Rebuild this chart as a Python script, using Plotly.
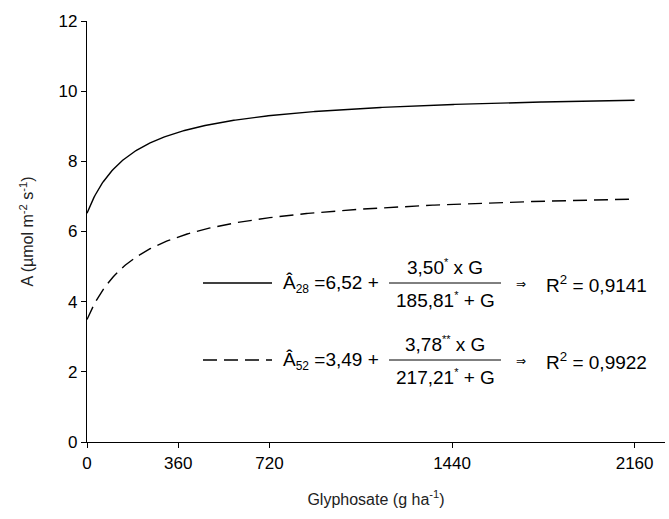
import numpy as np
import plotly.graph_objects as go

# Fitted rectangular-hyperbola models: A = a + b*G / (c + G)
series_names = ["28", "52"]
coef_a = [6.52, 3.49]
coef_b = [3.50, 3.78]
coef_c = [185.81, 217.21]
coef_b_sig = ["*", "**"]
coef_c_sig = ["*", "*"]
r_squared = ["0,9141", "0,9922"]
line_dash = ["solid", "14px,7px"]

x_ticks = [0, 360, 720, 1440, 2160]
y_ticks = [0, 2, 4, 6, 8, 10, 12]

dose = np.linspace(0, 2160, 400)

W, H = 669, 519
L, R, T, B = 87, 4, 21, 77
pw, ph = W - L - R, H - T - B


def px(x):
    return (x - L) / pw


def py(y):
    return (H - B - y) / ph


fig = go.Figure()
for i, name in enumerate(series_names):
    fitted = coef_a[i] + coef_b[i] * dose / (coef_c[i] + dose)
    fig.add_trace(go.Scatter(
        x=dose, y=fitted, mode="lines", name=name,
        line=dict(color="black", width=1.4, dash=line_dash[i]),
        showlegend=False, hoverinfo="skip",
    ))

font = "Liberation Sans, Arial, sans-serif"
eq_font = dict(size=19, family=font, color="black")
annotations = []
shapes = []
row_y = [283, 360]
for i, name in enumerate(series_names):
    yc = row_y[i]
    shapes.append(dict(type="line", xref="paper", yref="paper",
                       x0=px(203), x1=px(272), y0=py(yc), y1=py(yc),
                       line=dict(color="black", width=1.4, dash=line_dash[i])))
    annotations.append(dict(xref="paper", yref="paper", x=px(281), y=py(yc + 1),
                            xanchor="left", yanchor="middle", showarrow=False,
                            text=f"Â<sub><span style='font-size:12px'>{name}</span></sub> ="
                                 + f"{coef_a[i]:.2f}".replace(".", ",") + " +",
                            font=eq_font))
    annotations.append(dict(xref="paper", yref="paper", x=px(445), y=py(yc - 16),
                            xanchor="center", yanchor="middle", showarrow=False,
                            text=f"{coef_b[i]:.2f}".replace(".", ",")
                                 + f"<sup><span style='font-size:11px'>{coef_b_sig[i]}</span></sup> x G",
                            font=eq_font))
    annotations.append(dict(xref="paper", yref="paper", x=px(445), y=py(yc + 17),
                            xanchor="center", yanchor="middle", showarrow=False,
                            text=f"{coef_c[i]:.2f}".replace(".", ",")
                                 + f"<sup><span style='font-size:11px'>{coef_c_sig[i]}</span></sup> + G",
                            font=eq_font))
    shapes.append(dict(type="line", xref="paper", yref="paper",
                       x0=px(389), x1=px(501), y0=py(yc), y1=py(yc),
                       line=dict(color="black", width=1)))
    annotations.append(dict(xref="paper", yref="paper", x=px(521), y=py(yc + 1),
                            xanchor="center", yanchor="middle", showarrow=False,
                            text="⇒", font=dict(size=12, family="DejaVu Sans", color="black")))
    annotations.append(dict(xref="paper", yref="paper", x=px(544), y=py(yc + 1),
                            xanchor="left", yanchor="middle", showarrow=False,
                            text=f"R<sup>2</sup> = {r_squared[i]}",
                            font=eq_font))

axis_common = dict(showline=True, linecolor="black", linewidth=1.2,
                   ticks="outside", ticklen=5, tickwidth=1.2, tickcolor="black",
                   showgrid=False, zeroline=False,
                   tickfont=dict(size=17, family=font, color="black"))

fig.update_layout(
    width=W, height=H,
    margin=dict(l=L, r=R, t=T, b=B),
    plot_bgcolor="white", paper_bgcolor="white",
    xaxis=dict(range=[0, 2280], tickvals=x_ticks,
               title=dict(text="Glyphosate (g ha<sup>-1</sup>)", standoff=22,
                          font=dict(size=16, family=font, color="#222")),
               **axis_common),
    yaxis=dict(range=[0, 12], tickvals=y_ticks,
               title=dict(text="A (µmol m<sup>-2</sup> s<sup>-1</sup>)", standoff=20,
                          font=dict(size=16, family=font, color="#222")),
               **axis_common),
    shapes=shapes,
    annotations=annotations,
)

fig.write_html("out.html")
